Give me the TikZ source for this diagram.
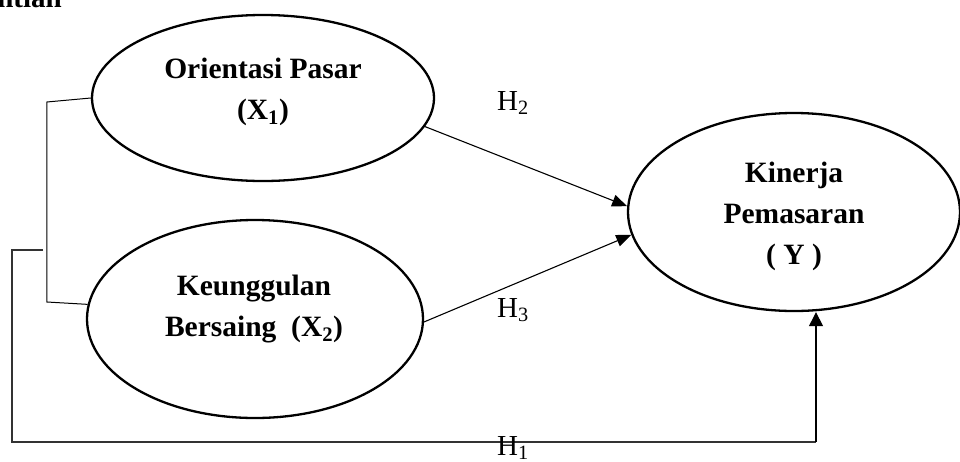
\documentclass[tikz,border=0pt]{standalone}
\usepackage{fontspec}
\setmainfont{Liberation Serif}
\usetikzlibrary{shapes.geometric,arrows.meta}
\begin{document}
\begin{tikzpicture}[x=1pt,y=-1pt,
  varbox/.style={draw, ellipse, line width=2.3pt, inner sep=0pt},
  vartext/.style={font=\fontsize{29.5}{41}\selectfont\bfseries, align=center, inner sep=0pt},
  hyplabel/.style={font=\fontsize{29}{34}\selectfont, anchor=base west, inner sep=0pt},
  linkarrow/.style={line width=1.1pt, -{Triangle[length=15pt,width=12pt]}}]
\useasboundingbox (0,0) rectangle (960,461);
% Heading (cut at the top edge)
\node[font=\fontsize{29}{34}\selectfont\bfseries, anchor=base east, inner sep=0pt] (heading) at (62,7) {ntian};
% Variables
\node[varbox, minimum width=342pt, minimum height=166pt] (pasar) at (263,98) {};
\node[varbox, minimum width=336pt, minimum height=198pt] (unggul) at (255,319) {};
\node[varbox, minimum width=332pt, minimum height=198pt] (kinerja) at (794,212) {};
\node[vartext] (pasartext) at (263,92) {Orientasi Pasar\\(X\textsubscript{1})};
\node[vartext] (unggultext) at (254,309) {Keunggulan\\Bersaing\ \ (X\textsubscript{2})};
\node[vartext] (kinerjatext) at (794,216) {Kinerja\\Pemasaran\\( Y )};
% Hypotheses
\draw[linkarrow] (pasar.-10.6) -- (kinerja.178);
\draw[linkarrow] (unggul.-1) -- (kinerja.188);
\node[hyplabel] (h2) at (497,110) {H\textsubscript{2}};
\node[hyplabel] (h3) at (497,317) {H\textsubscript{3}};
% Bracket joining X1 and X2
\draw[line width=1pt] (pasar.west) -- ++(-44,4) -- ++(0,200) -- (unggul.175);
% Simultaneous path
\coordinate (fbstart) at (43,250);
\coordinate (fbturn) at (816,442);
\draw[line width=1.3pt, black!80] (fbstart) -- (12,250) |- (fbturn);
\draw[line width=1.1pt, -{Triangle[length=14pt,width=14pt]}] (fbturn) -- (fbturn |- kinerja.south);
\node[hyplabel] (h1) at (497,455) {H\textsubscript{1}};
\end{tikzpicture}
\end{document}
